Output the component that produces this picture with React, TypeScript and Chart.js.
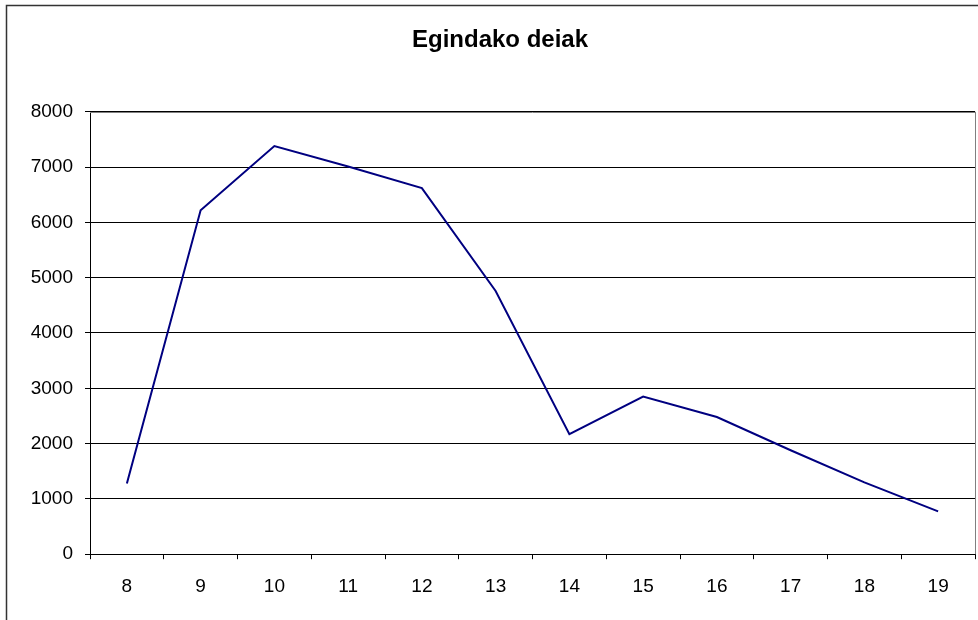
import React, { useEffect, useRef } from "react";
import { Chart, registerables } from "chart.js";

Chart.register(...registerables);

const categories = ["8", "9", "10", "11", "12", "13", "14", "15", "16", "17", "18", "19"];
const calls = [1280, 6220, 7380, 7010, 6620, 4760, 2170, 2850, 2480, 1880, 1300, 775];
const chartTitle = "Egindako deiak";
const yMin = 0;
const yMax = 8000;
const yStep = 1000;

const FONT = "'Liberation Sans', Arial, sans-serif";

const framePlugin = {
  id: "frame",
  beforeDraw(chart: any) {
    const ctx = chart.ctx;
    ctx.save();
    ctx.fillStyle = "#ffffff";
    ctx.fillRect(0, 0, chart.width, chart.height);
    ctx.strokeStyle = "#333333";
    ctx.lineWidth = 1.5;
    ctx.strokeRect(6.5, 5.5, chart.width + 20, chart.height + 20);
    ctx.restore();
  },
  afterDatasetsDraw(chart: any) {
    const { ctx, chartArea } = chart;
    ctx.save();
    ctx.strokeStyle = "#808080";
    ctx.lineWidth = 1;
    ctx.beginPath();
    ctx.moveTo(chartArea.left, Math.round(chartArea.top) + 0.5);
    ctx.lineTo(chartArea.right, Math.round(chartArea.top) + 0.5);
    ctx.moveTo(Math.round(chartArea.right) + 0.5, chartArea.top);
    ctx.lineTo(Math.round(chartArea.right) + 0.5, chartArea.bottom);
    ctx.stroke();
    ctx.restore();
  },
};

export default function App() {
  const ref = useRef<HTMLCanvasElement>(null);
  useEffect(() => {
    if (!ref.current) return;
    const chart = new Chart(ref.current, {
      type: "line",
      data: {
        labels: categories,
        datasets: [
          {
            data: calls,
            borderColor: "#000080",
            borderWidth: 2,
            pointRadius: 0,
            tension: 0,
            fill: false,
          },
        ],
      },
      options: {
        animation: false,
        responsive: false,
        devicePixelRatio: 1,
        layout: { padding: { top: 0, left: 0, right: 0, bottom: 6 } },
        plugins: {
          legend: { display: false },
          tooltip: { enabled: false },
          title: {
            display: true,
            text: chartTitle,
            color: "#000",
            font: { family: FONT, size: 24, weight: "bold", lineHeight: 1.2 },
            padding: { top: 26, bottom: 57 },
          },
        },
        scales: {
          x: {
            type: "category",
            offset: true,
            grid: {
              offset: true,
              drawOnChartArea: false,
              drawTicks: true,
              tickLength: 5,
              color: "#000",
            },
            border: { display: true, color: "#000", width: 1 },
            ticks: {
              color: "#000",
              font: { family: FONT, size: 19 },
              padding: 16,
              maxRotation: 0,
              autoSkip: false,
            },
          },
          y: {
            min: yMin,
            max: yMax,
            position: "left",
            afterFit(scale: any) {
              scale.width = 90;
            },
            grid: { color: "#000", tickLength: 5, lineWidth: 1 },
            border: { display: true, color: "#000", width: 1 },
            ticks: {
              stepSize: yStep,
              color: "#000",
              font: { family: FONT, size: 19 },
              padding: 12,
              callback: (v: any) => String(v),
            },
          },
          y2: {
            position: "right",
            display: true,
            afterFit(scale: any) {
              scale.width = 25;
            },
            grid: { display: false, drawTicks: false },
            border: { display: false },
            ticks: { display: false },
          },
        },
      },
      plugins: [framePlugin],
    } as any);
    return () => chart.destroy();
  }, []);
  return (
    <div style={{ position: "fixed", left: 0, top: 0, width: 978, height: 620, overflow: "hidden", background: "#fff" }}>
      <canvas ref={ref} width={1000} height={620} style={{ display: "block", width: 1000, height: 620 }} />
    </div>
  );
}
